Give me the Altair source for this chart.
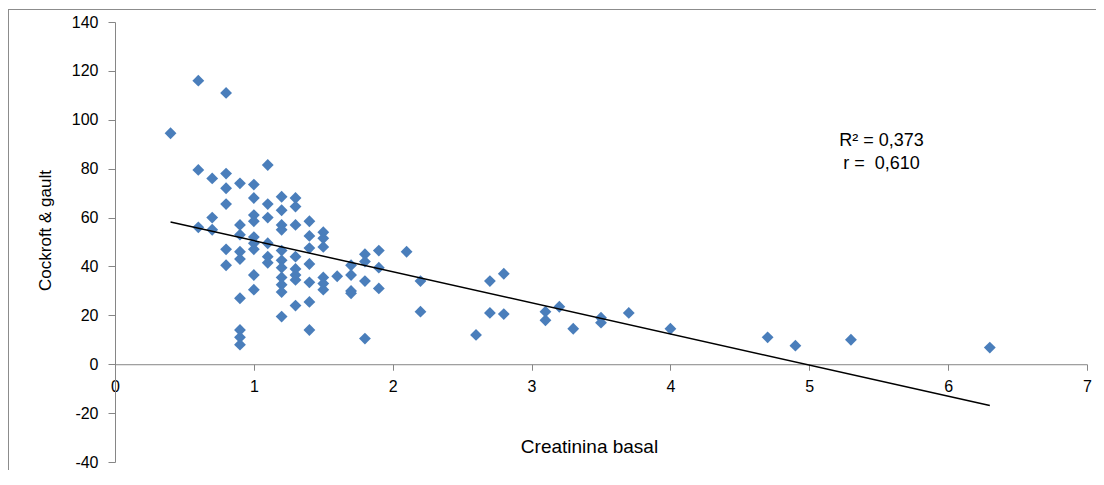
import altair as alt
import pandas as pd

# Scatter data (Creatinina basal vs Cockroft & gault)
creatinina = [
    0.4, 0.6, 0.8, 0.6, 0.6, 0.7, 0.7, 0.7, 0.8, 0.8, 0.8, 0.8, 0.8,
    0.9, 0.9, 0.9, 0.9, 0.9, 0.9, 0.9, 0.9, 0.9,
    1.0, 1.0, 1.0, 1.0, 1.0, 1.0, 1.0, 1.0, 1.0,
    1.1, 1.1, 1.1, 1.1, 1.1, 1.1,
    1.2, 1.2, 1.2, 1.2, 1.2, 1.2, 1.2, 1.2, 1.2, 1.2, 1.2,
    1.3, 1.3, 1.3, 1.3, 1.3, 1.3, 1.3, 1.3,
    1.4, 1.4, 1.4, 1.4, 1.4, 1.4, 1.4,
    1.5, 1.5, 1.5, 1.5, 1.5, 1.5,
    1.6, 1.7, 1.7, 1.7, 1.7,
    1.8, 1.8, 1.8, 1.8, 1.9, 1.9, 1.9,
    2.1, 2.2, 2.2, 2.6, 2.7, 2.7, 2.8, 2.8,
    3.1, 3.1, 3.2, 3.3, 3.5, 3.5, 3.7, 4.0,
    4.7, 4.9, 5.3, 6.3,
]
cockroft = [
    94.5, 116, 111, 79.5, 56, 76, 60, 55, 78, 72, 65.5, 47, 40.5,
    74, 57, 53, 46, 43, 27, 14, 11, 8,
    73.5, 68, 61, 58.5, 52, 49.5, 47, 36.5, 30.5,
    81.5, 65.5, 60, 49.5, 44, 41.5,
    68.5, 63, 57, 55, 46.5, 42.5, 39.5, 35.5, 32.5, 29.5, 19.5,
    68, 64.5, 57, 44, 39, 36.5, 34.5, 24,
    58.5, 52.5, 47.5, 41, 33.5, 25.5, 14,
    54, 51.5, 48, 35.5, 33, 30.5,
    36, 40.5, 36.5, 30, 29,
    45, 42, 34, 10.5, 46.5, 39.5, 31,
    46, 34, 21.5, 12, 34, 21, 37, 20.5,
    21.5, 18, 23.5, 14.5, 19, 17, 21, 14.5,
    11, 7.6, 10, 6.8,
]

# Linear trendline end points as drawn in the reference
trend_x = [0.4, 6.3]
trend_y = [58.2, -16.9]

# Annotation
note_x = [5.52, 5.52]
note_y = [91.2, 81.9]
note_text = ["R² = 0,373", "r = \u00a00,610"]

x_ticks = [0, 1, 2, 3, 4, 5, 6, 7]
y_ticks = [-40, -20, 0, 20, 40, 60, 80, 100, 120, 140]

FONT = "Liberation Sans"
AXIS_GRAY = "#868686"
W, H = 972, 440
PAD_L, PAD_T = 107, 14
ZERO_OFFSET = -H * 40 / 180  # x axis sits at y = 0

pts = pd.DataFrame({"creatinina": creatinina, "cockroft": cockroft})
trend = pd.DataFrame({"creatinina": trend_x, "cockroft": trend_y})
notes = pd.DataFrame({"creatinina": note_x, "cockroft": note_y, "label": note_text})
one = pd.DataFrame({"a": [0]})

xscale = alt.Scale(domain=[0, 7], nice=False, zero=False)
yscale = alt.Scale(domain=[-40, 140], nice=False, zero=False)

x_axis = alt.Axis(
    values=x_ticks, title="Creatinina basal", offset=ZERO_OFFSET, grid=False,
    domainColor=AXIS_GRAY, tickColor=AXIS_GRAY, tickSize=6, labelPadding=8,
    labelFont=FONT, labelFontSize=16, labelColor="#000000",
    labelExpr="'' + datum.value",
    labelFlush=False, labelOverlap=False,
    titleFont=FONT, titleFontSize=19, titleFontWeight="normal", titleColor="#000000",
    titleX=474, titleY=82, titleBaseline="middle", titleAlign="center",
)
y_axis = alt.Axis(
    values=y_ticks, title="Cockroft & gault", grid=False,
    domainColor=AXIS_GRAY, tickColor=AXIS_GRAY, tickSize=7, labelPadding=10,
    labelFont=FONT, labelFontSize=16, labelColor="#000000",
    labelExpr="'' + datum.value",
    labelFlush=False, labelOverlap=False,
    titleFont=FONT, titleFontSize=17, titleFontWeight="normal", titleColor="#000000",
    titleX=-70, titleY=208, titleBaseline="middle", titleAlign="center",
)

points = alt.Chart(pts).mark_point(
    shape="diamond", filled=True, size=140, color="#4A7EBB", opacity=1
).encode(
    x=alt.X("creatinina:Q", scale=xscale, axis=x_axis),
    y=alt.Y("cockroft:Q", scale=yscale, axis=y_axis),
)

line = alt.Chart(trend).mark_line(color="#000000", strokeWidth=1.5).encode(
    x=alt.X("creatinina:Q", scale=xscale),
    y=alt.Y("cockroft:Q", scale=yscale),
)

text = alt.Chart(notes).mark_text(
    align="center", baseline="middle", font=FONT, fontSize=18, color="#000000"
).encode(
    x=alt.X("creatinina:Q", scale=xscale),
    y=alt.Y("cockroft:Q", scale=yscale),
    text="label:N",
)

frame_left = alt.Chart(one).mark_rule(color="#8c8c8c", strokeWidth=1).encode(
    x=alt.value(-PAD_L + 0.5), y=alt.value(-PAD_T + 1.5), y2=alt.value(H + 20)
)
frame_top = alt.Chart(one).mark_rule(color="#8c8c8c", strokeWidth=1).encode(
    x=alt.value(-PAD_L), x2=alt.value(W + 20), y=alt.value(-PAD_T + 1.5)
)

chart = alt.layer(frame_left, frame_top, points, line, text).properties(
    width=W, height=H,
    autosize=alt.AutoSizeParams(type="none"),
    padding={"left": PAD_L, "top": PAD_T, "right": 9, "bottom": 8},
    background="white",
).configure_view(stroke=None)

chart.save("out.html", embed_options={"renderer": "svg", "actions": False})
